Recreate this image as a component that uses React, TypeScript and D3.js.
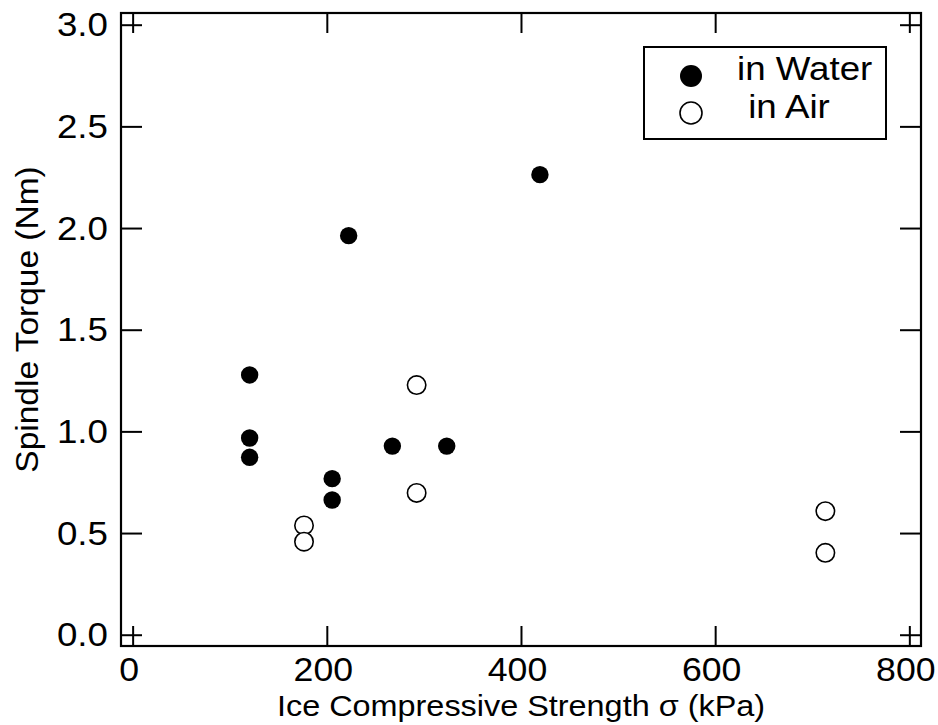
import React from "react";
import * as d3 from "d3";

const xTicks = [0, 200, 400, 600, 800];
const yTicks = [0, 0.5, 1.0, 1.5, 2.0, 2.5, 3.0];

const waterX = [120, 120, 120, 205, 205, 222, 267, 323, 419];
const waterY = [1.28, 0.97, 0.875, 0.77, 0.665, 1.965, 0.93, 0.93, 2.265];

const airX = [176, 176, 292, 292, 713, 713];
const airY = [0.54, 0.46, 1.23, 0.7, 0.61, 0.405];

const legendLabels = ["in Water", " in Air"];

const xTitle = "Ice Compressive Strength \u03c3 (kPa)";
const yTitle = "Spindle Torque (Nm)";

const W = 938;
const H = 725;
const L = 121;
const R = 921;
const T = 13;
const B = 646;

const FONT = "'Liberation Sans', Arial, Helvetica, sans-serif";
const SX = 1.08;

export default function App() {
  const x = d3.scaleLinear().domain([-12.5, 811.5]).range([L, R]);
  const y = d3.scaleLinear().domain([-0.053, 3.06]).range([B, T]);
  const tickLen = 20;

  return (
    <svg
      width={W}
      height={H}
      viewBox={`0 0 ${W} ${H}`}
      style={{ position: "absolute", left: 0, top: 0, background: "#fff" }}
      fontFamily={FONT}
    >
      <rect x={0} y={0} width={W} height={H} fill="#fff" />
      {/* frame */}
      <rect x={L} y={T} width={R - L} height={B - T} fill="none" stroke="#000" strokeWidth={2.2} />
      {/* x ticks bottom and top */}
      {xTicks.map((t) => (
        <g key={"xt" + t}>
          <line x1={x(t)} x2={x(t)} y1={B} y2={B - tickLen} stroke="#000" strokeWidth={2} />
          <line x1={x(t)} x2={x(t)} y1={T} y2={T + tickLen} stroke="#000" strokeWidth={2} />
          <text
            transform={`translate(${x(t) - 4},${B + 35}) scale(${SX},1)`}
            textAnchor="middle"
            fontSize={33}
            fill="#000"
          >
            {t}
          </text>
        </g>
      ))}
      {/* y ticks left and right */}
      {yTicks.map((t) => (
        <g key={"yt" + t}>
          <line x1={L} x2={L + tickLen + 1} y1={y(t)} y2={y(t)} stroke="#000" strokeWidth={2} />
          <line x1={R} x2={R - tickLen - 1} y1={y(t)} y2={y(t)} stroke="#000" strokeWidth={2} />
          <text
            transform={`translate(108,${y(t)}) scale(${SX},1)`}
            textAnchor="end"
            dy="0.33em"
            fontSize={34}
            fill="#000"
          >
            {t.toFixed(1)}
          </text>
        </g>
      ))}
      {/* axis titles */}
      <text
        transform={`translate(${(L + R) / 2},716) scale(${SX},1)`}
        textAnchor="middle"
        fontSize={30}
        fill="#000"
      >
        {xTitle}
      </text>
      <text
        transform={`translate(38,${(T + B) / 2 - 10}) rotate(-90) scale(${SX},1)`}
        textAnchor="middle"
        fontSize={31}
        fill="#000"
      >
        {yTitle}
      </text>
      {/* data */}
      {waterX.map((v, i) => (
        <circle key={"w" + i} cx={x(v)} cy={y(waterY[i])} r={8.7} fill="#000" />
      ))}
      {airX.map((v, i) => (
        <circle
          key={"a" + i}
          cx={x(v)}
          cy={y(airY[i])}
          r={9.2}
          fill="#fff"
          stroke="#000"
          strokeWidth={1.6}
        />
      ))}
      {/* legend */}
      <rect x={644} y={47} width={242} height={92} fill="#fff" stroke="#000" strokeWidth={2} />
      <circle cx={691} cy={76} r={11} fill="#000" />
      <circle cx={691} cy={113} r={11} fill="#fff" stroke="#000" strokeWidth={1.6} />
      <text
        transform={`translate(737,80) scale(${SX},1)`}
        fontSize={34}
        fill="#000"
        style={{ whiteSpace: "pre" }}
      >
        {legendLabels[0]}
      </text>
      <text
        transform={`translate(738,118) scale(${SX},1)`}
        fontSize={34}
        fill="#000"
        style={{ whiteSpace: "pre" }}
        xmlSpace="preserve"
      >
        {legendLabels[1]}
      </text>
    </svg>
  );
}
